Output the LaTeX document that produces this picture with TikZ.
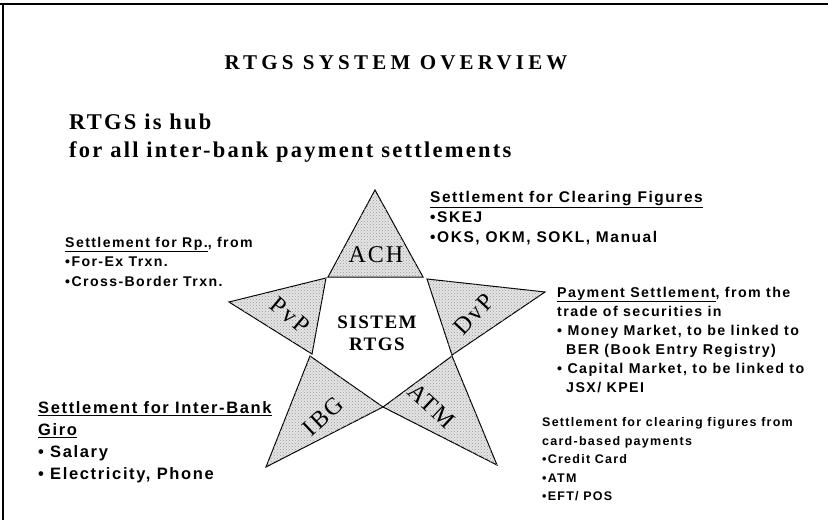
\documentclass[tikz,border=0pt]{standalone}
\usepackage{fontspec}
\usetikzlibrary{patterns}
\setmainfont{Liberation Serif}
\newfontfamily\titlefont[LetterSpace=20]{Liberation Serif}
\newfontfamily\headfont[LetterSpace=10]{Liberation Serif}
\newfontfamily\notefont[LetterSpace=10]{Liberation Sans}
\newfontfamily\tagfont[LetterSpace=8]{Liberation Serif}

\begin{document}
\begin{tikzpicture}[x=1pt,y=-1pt,
  ptri/.style={draw=black,line width=1pt,line join=miter,fill=black!10,
    postaction={pattern=crosshatch dots,pattern color=black!40}},
  frameline/.style={draw=black,line width=1.8pt},
  titletext/.style={font=\titlefont\bfseries\fontsize{21}{25}\selectfont,anchor=base,inner sep=0},
  headtext/.style={font=\headfont\bfseries\fontsize{22.5}{28}\selectfont,anchor=north west,inner sep=0,align=left},
  note/.style n args={2}{font=\notefont\bfseries\fontsize{#1}{#2}\selectfont,anchor=north west,inner sep=0,align=left},
  tag/.style={font=\tagfont\fontsize{24}{26}\selectfont,inner sep=0},
  hubtext/.style={font=\tagfont\bfseries\fontsize{19}{22}\selectfont,inner sep=0,align=center}]

% page and frame
\useasboundingbox (0,0) rectangle (828,520);
\fill[white] (0,0) rectangle (828,520);
\draw[frameline] (0,4) -- (828,4);
\draw[frameline] (3,4) -- (3,520);

% star corners
\coordinate (apex) at (375,190);
\coordinate (achL) at (328,277);
\coordinate (achR) at (423,277);
\coordinate (pvpTip) at (229,302);
\coordinate (pvpT) at (326,278);
\coordinate (pvpB) at (312,354);
\coordinate (dvpT) at (427,279);
\coordinate (dvpTip) at (545,292);
\coordinate (dvpB) at (452,355);
\coordinate (ibgT) at (310,356);
\coordinate (ibgTip) at (266,467);
\coordinate (low) at (383,407);
\coordinate (atmT) at (452,356);
\coordinate (atmTip) at (497,465);

% the five points of the star
\path[ptri] (apex) -- (achR) -- (achL) -- cycle;
\path[ptri] (pvpTip) -- (pvpT) -- (pvpB) -- cycle;
\path[ptri] (dvpT) -- (dvpTip) -- (dvpB) -- cycle;
\path[ptri] (ibgT) -- (low) -- (ibgTip) -- cycle;
\path[ptri] (atmT) -- (atmTip) -- (low) -- cycle;

% labels inside the star
\node[tag] (ach) at (376,255) {ACH};
\node[tag,rotate=-40] (pvp) at (290,315) {PvP};
\node[tag,rotate=47] (dvp) at (474,314) {DvP};
\node[tag,rotate=43] (ibg) at (323,416) {IBG};
\node[tag,rotate=-43] (atm) at (432,406) {ATM};
\node[hubtext] (hub) at (377,333) {SISTEM\\RTGS};

% headings
\node[titletext] (title) at (396,69) {RTGS SYSTEM OVERVIEW};
\node[headtext] (lead) at (69,114) {RTGS is hub\\for all inter-bank payment settlements};

% notes around the star
\node[note={15.5}{20}] (achnote) at (430,191.3)
  {\underline{Settlement for Clearing Figures}\\•SKEJ\\•OKS, OKM, SOKL, Manual};
\node[note={14.1}{19.5}] (pvpnote) at (65,236.8)
  {\underline{Settlement for Rp.}, from\\•For-Ex Trxn.\\•Cross-Border Trxn.};
\node[note={14.2}{19}] (dvpnote) at (557,286.7)
  {\underline{Payment Settlement}, from the\\trade of securities in\\• Money Market, to be linked to\\\hspace*{9pt}BER (Book Entry Registry)\\• Capital Market, to be linked to\\\hspace*{9pt}JSX/ KPEI};
\node[note={12.5}{18.5}] (atmnote) at (542,417.4)
  {Settlement for clearing figures from\\card-based payments\\•Credit Card\\•ATM\\•EFT/ POS};
\node[note={16.5}{22}] (ibgnote) at (38,401.8)
  {\underline{Settlement for Inter-Bank}\\\underline{Giro}\\• Salary\\• Electricity, Phone};
\end{tikzpicture}
\end{document}
